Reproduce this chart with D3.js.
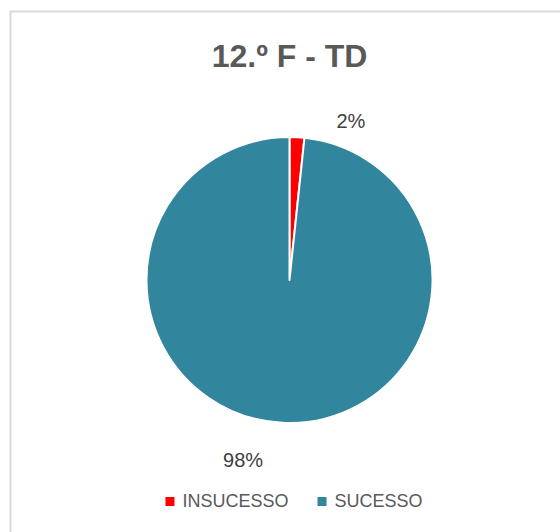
<!DOCTYPE html>
<html>
  <head>
    <meta charset="UTF-8">
    <title>12.º F - TD</title>
    <script src="https://d3js.org/d3.v7.min.js" charset="utf-8"></script>
    <style>
      body { margin: 0; background: #fff; }
    </style>
  </head>
  <body>
    <script>
        var w = 560;
        var h = 532;

        // data
        var categories = ["INSUCESSO", "SUCESSO"];
        var values = [1, 59];
        var colors = ["#FF0000", "#31859C"];
        var title = "12.º F - TD";

        var cx = 289.5, cy = 280, r = 143;

        var svg = d3.select("body").append("svg")
            .attr("width", w)
            .attr("height", h);

        // chart border (runs off the right and bottom edge)
        svg.append("rect")
            .attr("x", 10.5).attr("y", 11.5)
            .attr("width", 700).attr("height", 700)
            .attr("fill", "#fff")
            .attr("stroke", "#d9d9d9")
            .attr("stroke-width", 2);

        // title
        svg.append("text")
            .attr("x", cx).attr("y", 67)
            .attr("text-anchor", "middle")
            .attr("font-family", "'Liberation Sans', Arial, sans-serif")
            .attr("font-weight", "bold")
            .attr("font-size", "32px")
            .attr("fill", "#595959")
            .text(title);

        var rows = categories.map(function(c, i){ return {cat: c, val: values[i]}; });
        var total = d3.sum(values);

        var pie = d3.pie().sort(null).value(function(d){ return d.val; });
        var arc = d3.arc().innerRadius(0).outerRadius(r);
        var arcs = pie(rows);

        var g = svg.append("g").attr("transform", "translate(" + cx + "," + cy + ")");

        g.selectAll("path")
            .data(arcs)
            .enter()
            .append("path")
            .attr("d", arc)
            .attr("fill", function(d, i){ return colors[i]; })
            .attr("stroke", "#fff")
            .attr("stroke-width", 2)
            .attr("stroke-linejoin", "round");

        // labels: placed outside, shifted clockwise a bit like Excel's best fit
        var labelShift = [0.315, 0.2];
        var labelRad = [171, 186];
        g.selectAll("text.lbl")
            .data(arcs)
            .enter()
            .append("text")
            .attr("class", "lbl")
            .attr("x", function(d, i){
                var a = (d.startAngle + d.endAngle) / 2 + labelShift[i];
                return Math.sin(a) * labelRad[i];
            })
            .attr("y", function(d, i){
                var a = (d.startAngle + d.endAngle) / 2 + labelShift[i];
                return -Math.cos(a) * labelRad[i];
            })
            .attr("dy", "0.36em")
            .attr("text-anchor", "middle")
            .attr("font-family", "'Liberation Sans', Arial, sans-serif")
            .attr("font-size", "20px")
            .attr("fill", "#404040")
            .text(function(d){ return Math.round(d.data.val / total * 100) + "%"; });

        // legend
        var legend = svg.append("g");
        var items = legend.selectAll("g")
            .data(rows)
            .enter()
            .append("g");

        items.append("rect")
            .attr("width", 9).attr("height", 9)
            .attr("y", 497)
            .attr("fill", function(d, i){ return colors[i]; });

        items.append("text")
            .attr("y", 507)
            .attr("font-family", "'Liberation Sans', Arial, sans-serif")
            .attr("font-size", "18px")
            .attr("fill", "#595959")
            .text(function(d){ return d.cat; });

        // lay out legend items centred under the chart area
        var x = 0, gap = 29, widths = [];
        items.each(function(){
            var tw = d3.select(this).select("text").node().getComputedTextLength();
            widths.push(17 + tw);
        });
        var totalW = d3.sum(widths) + gap * (widths.length - 1);
        var start = cx + 4.5 - totalW / 2;
        items.each(function(d, i){
            var sel = d3.select(this);
            sel.select("rect").attr("x", start + x);
            sel.select("text").attr("x", start + x + 17);
            x += widths[i] + gap;
        });
    </script>
  </body>
</html>
